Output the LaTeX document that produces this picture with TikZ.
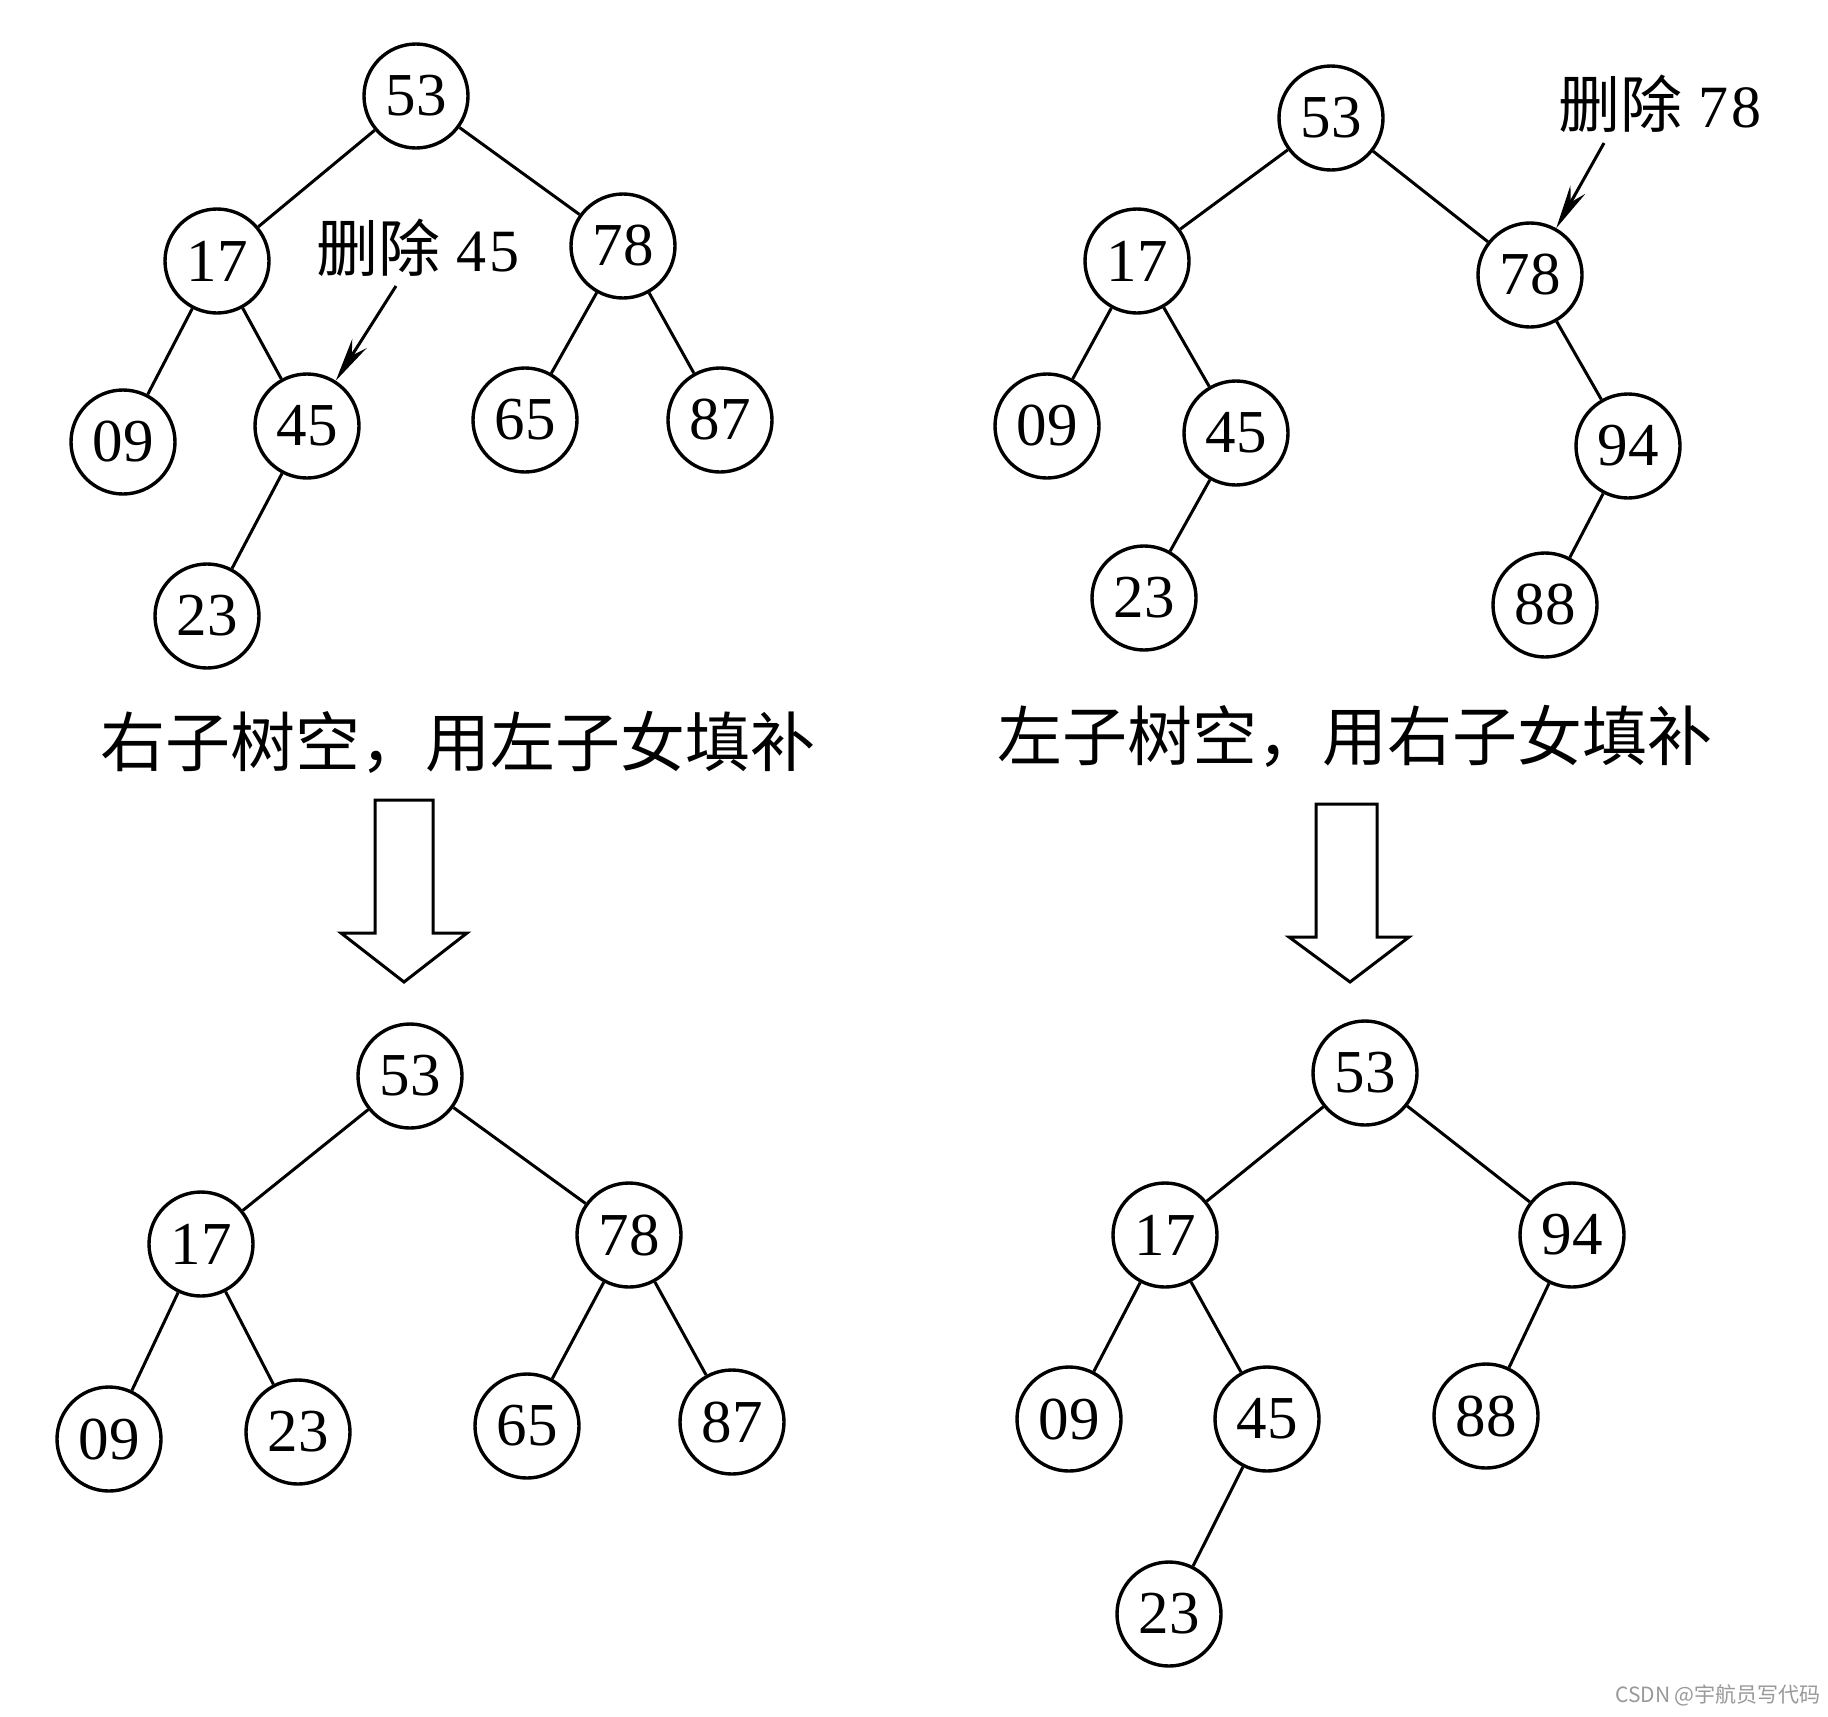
\documentclass[tikz,border=0pt]{standalone}
\usepackage{fontspec}
\setmainfont{Liberation Serif}
\newfontfamily\cjk{Noto Sans CJK SC}
\usetikzlibrary{arrows.meta}
\begin{document}
\begin{tikzpicture}[x=1pt,y=-1pt,
  tn/.style={circle,draw,line width=3.4pt,minimum size=104pt,inner sep=0pt,font=\fontsize{61}{66}\selectfont},
  edge/.style={line width=3pt},
  ptr/.style={line width=3pt,-{Stealth[length=44pt,width=17pt]}},
  lbl/.style={inner sep=0pt,font=\fontsize{60}{66}\selectfont},
  captext/.style={inner sep=0pt,font=\cjk\fontsize{65}{72}\selectfont},
  blockarrow/.style={line width=3pt,line join=miter,fill=white},
  wm/.style={inner sep=0pt,text=black!40,font=\cjk\fontsize{21}{24}\selectfont}]
\useasboundingbox (0,0) rectangle (1828,1716);
\fill[white] (0,0) rectangle (1828,1716);

% top-left tree
\node[tn] (a53) at (416,96) {53};
\node[tn] (a17) at (217,261) {17};
\node[tn] (a78) at (623,246) {78};
\node[tn] (a09) at (123,442) {09};
\node[tn] (a45) at (307,426) {45};
\node[tn] (a65) at (525,420) {65};
\node[tn] (a87) at (720,420) {87};
\node[tn] (a23) at (207,616) {23};
\draw[edge] (a53) -- (a17);
\draw[edge] (a53) -- (a78);
\draw[edge] (a17) -- (a09);
\draw[edge] (a17) -- (a45);
\draw[edge] (a45) -- (a23);
\draw[edge] (a78) -- (a65);
\draw[edge] (a78) -- (a87);
\node[lbl] (la) at (418,248) {{\cjk\fontsize{62}{68}\selectfont 删除}\hspace{16pt}4\kern3pt 5};
\coordinate (pa) at (396,286);
\draw[ptr] (pa) -- (a45);

% top-right tree
\node[tn] (b53) at (1331,118) {53};
\node[tn] (b17) at (1137,261) {17};
\node[tn] (b78) at (1530,275) {78};
\node[tn] (b09) at (1047,426) {09};
\node[tn] (b45) at (1236,433) {45};
\node[tn] (b94) at (1628,446) {94};
\node[tn] (b23) at (1144,598) {23};
\node[tn] (b88) at (1545,605) {88};
\draw[edge] (b53) -- (b17);
\draw[edge] (b53) -- (b78);
\draw[edge] (b17) -- (b09);
\draw[edge] (b17) -- (b45);
\draw[edge] (b45) -- (b23);
\draw[edge] (b78) -- (b94);
\draw[edge] (b94) -- (b88);
\node[lbl] (lb) at (1660,104) {{\cjk\fontsize{62}{68}\selectfont 删除}\hspace{16pt}7\kern3pt 8};
\coordinate (pb) at (1604,143);
\draw[ptr] (pb) -- (b78);

% captions
\node[captext] (ca) at (458,742) {右子树空，用左子女填补};
\node[captext] (cb) at (1355,736) {左子树空，用右子女填补};

% block arrows
\draw[blockarrow] (375,800) -- (433,800) -- (433,933) -- (467,933) -- (404,982) -- (341,933) -- (375,933) -- cycle;
\draw[blockarrow] (1316,804) -- (1377,804) -- (1377,937) -- (1409,937) -- (1350,982) -- (1289,937) -- (1316,937) -- cycle;

% bottom-left tree
\node[tn] (c53) at (410,1076) {53};
\node[tn] (c17) at (201,1244) {17};
\node[tn] (c78) at (629,1235) {78};
\node[tn] (c09) at (109,1439) {09};
\node[tn] (c23) at (298,1432) {23};
\node[tn] (c65) at (527,1426) {65};
\node[tn] (c87) at (732,1422) {87};
\draw[edge] (c53) -- (c17);
\draw[edge] (c53) -- (c78);
\draw[edge] (c17) -- (c09);
\draw[edge] (c17) -- (c23);
\draw[edge] (c78) -- (c65);
\draw[edge] (c78) -- (c87);

% bottom-right tree
\node[tn] (d53) at (1365,1073) {53};
\node[tn] (d17) at (1165,1235) {17};
\node[tn] (d94) at (1572,1235) {94};
\node[tn] (d09) at (1069,1419) {09};
\node[tn] (d45) at (1267,1419) {45};
\node[tn] (d88) at (1486,1416) {88};
\node[tn] (d23) at (1169,1614) {23};
\draw[edge] (d53) -- (d17);
\draw[edge] (d53) -- (d94);
\draw[edge] (d17) -- (d09);
\draw[edge] (d17) -- (d45);
\draw[edge] (d45) -- (d23);
\draw[edge] (d94) -- (d88);

% watermark
\node[wm] (wmk) at (1718,1695) {CSDN @宇航员写代码};
\end{tikzpicture}
\end{document}
